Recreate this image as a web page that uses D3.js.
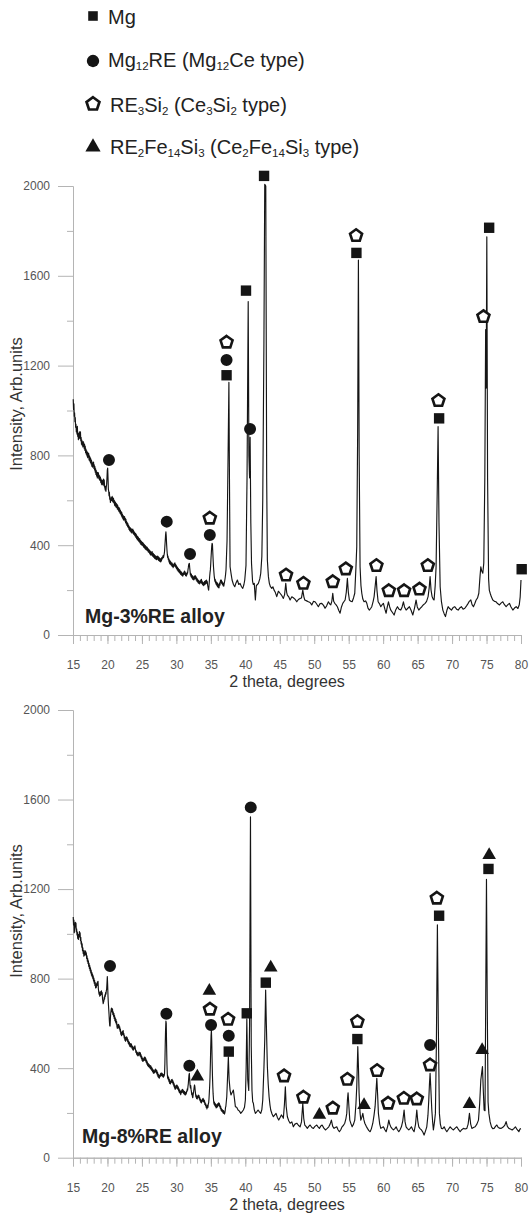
<!DOCTYPE html>
<html><head><meta charset="utf-8">
<script src="https://cdn.jsdelivr.net/npm/d3@7"></script>
<style>body{margin:0;background:#fff}svg{display:block}</style>
</head><body>
<svg id="c" width="531" height="1213"></svg>
<script>
// ---------- data ----------
const xTicks = [15,20,25,30,35,40,45,50,55,60,65,70,75,80];
const xMinorTicks = d3.range(15, 81, 1);
const yTicks = [0,400,800,1200,1600,2000];
const yMinorTicks = [200,600,1000,1400,1800];
const alloyLabels = ["Mg-3%RE alloy", "Mg-8%RE alloy"];
const xTitle = "2 theta, degrees";
const yTitle = "Intensity, Arb.units";

// legend labels: [text, isSubscript]
const legendLabels = [
  [["Mg",0]],
  [["Mg",0],["12",1],["RE (Mg",0],["12",1],["Ce type)",0]],
  [["RE",0],["3",1],["Si",0],["2",1],[" (Ce",0],["3",1],["Si",0],["2",1],[" type)",0]],
  [["RE",0],["2",1],["Fe",0],["14",1],["Si",0],["3",1],[" (Ce",0],["2",1],["Fe",0],["14",1],["Si",0],["3",1],[" type)",0]]
];

// XRD pattern, Mg-3%RE alloy: [2theta, intensity]
const pattern3 = [
[15.03,1050],[15.08,1005],[15.13,1030],[15.18,975],[15.23,990],[15.28,950],[15.33,968],[15.38,925],[15.43,940],[15.48,905],
[15.53,922],[15.58,895],[15.63,930],[15.68,885],[15.73,900],[15.78,870],[15.83,895],[15.88,880],[15.93,905],[15.98,875],
[16.03,890],[16.08,905],[16.13,865],[16.18,880],[16.23,850],[16.28,868],[16.33,845],[16.38,860],[16.43,838],[16.48,862],
[16.53,840],[16.58,855],[16.63,830],[16.68,848],[16.73,822],[16.78,840],[16.83,812],[16.88,828],[16.93,805],[16.98,820],
[17.03,798],[17.08,815],[17.13,790],[17.18,812],[17.23,795],[17.28,808],[17.33,780],[17.38,798],[17.43,775],[17.48,792],
[17.53,768],[17.58,785],[17.63,762],[17.68,778],[17.73,752],[17.78,770],[17.83,748],[17.88,762],[17.93,755],[17.98,770],
[18.03,742],[18.08,758],[18.13,735],[18.18,750],[18.23,725],[18.28,740],[18.33,715],[18.38,732],[18.43,708],[18.48,722],
[18.53,700],[18.58,725],[18.63,708],[18.68,722],[18.73,698],[18.78,712],[18.83,692],[18.88,708],[18.93,688],[18.98,702],
[19.03,680],[19.08,695],[19.13,672],[19.18,688],[19.23,668],[19.28,685],[19.33,690],[19.38,672],[19.43,695],[19.48,665],
[19.53,690],[19.58,660],[19.63,655],[19.68,645],[19.73,662],[19.78,640],[19.83,660],[19.88,672],[19.93,700],[19.98,735],
[20.03,744],[20.08,700],[20.13,650],[20.18,640],[20.23,620],[20.28,635],[20.33,605],[20.38,615],[20.43,590],[20.48,605],
[20.53,598],[20.58,612],[20.63,600],[20.68,618],[20.73,596],[20.78,612],[20.83,592],[20.88,608],[20.93,588],[20.98,600],
[21.03,578],[21.08,595],[21.13,575],[21.18,590],[21.23,570],[21.28,585],[21.33,568],[21.38,582],[21.43,562],[21.48,578],
[21.53,558],[21.58,570],[21.63,552],[21.68,568],[21.73,548],[21.78,562],[21.83,542],[21.88,555],[21.93,538],[21.98,550],
[22.03,530],[22.08,545],[22.13,525],[22.18,538],[22.23,518],[22.28,532],[22.33,512],[22.38,528],[22.43,515],[22.48,528],
[22.53,508],[22.58,520],[22.63,500],[22.68,515],[22.73,495],[22.78,505],[22.83,488],[22.88,500],[22.93,482],[22.98,495],
[23.03,478],[23.08,488],[23.13,470],[23.18,482],[23.23,465],[23.28,478],[23.33,462],[23.38,475],[23.43,458],[23.48,472],
[23.53,455],[23.58,470],[23.63,460],[23.68,472],[23.73,452],[23.78,465],[23.83,448],[23.88,460],[23.93,445],[23.98,455],
[24.03,440],[24.08,452],[24.13,435],[24.18,448],[24.23,430],[24.28,442],[24.33,425],[24.38,438],[24.43,422],[24.48,435],
[24.53,418],[24.58,430],[24.63,415],[24.68,428],[24.73,410],[24.78,422],[24.83,405],[24.88,418],[24.93,402],[24.98,415],
[25.03,400],[25.08,412],[25.13,398],[25.18,410],[25.23,392],[25.28,405],[25.33,390],[25.38,402],[25.43,385],[25.48,398],
[25.53,382],[25.58,395],[25.63,380],[25.68,392],[25.73,378],[25.78,390],[25.83,375],[25.88,385],[25.93,370],[25.98,382],
[26.03,368],[26.08,378],[26.13,362],[26.18,375],[26.23,358],[26.28,370],[26.33,355],[26.38,368],[26.43,360],[26.48,372],
[26.53,352],[26.58,365],[26.63,350],[26.68,362],[26.73,345],[26.78,358],[26.83,342],[26.88,355],[26.93,340],[26.98,352],
[27.03,338],[27.08,350],[27.13,335],[27.18,348],[27.23,340],[27.28,352],[27.33,336],[27.38,348],[27.43,332],[27.48,345],
[27.53,330],[27.58,342],[27.63,328],[27.68,338],[27.73,325],[27.78,340],[27.83,330],[27.88,345],[27.93,338],[27.98,348],
[28.03,342],[28.08,355],[28.13,345],[28.18,352],[28.23,360],[28.28,372],[28.33,395],[28.38,420],[28.43,445],[28.48,460],
[28.53,440],[28.58,405],[28.63,380],[28.68,360],[28.73,345],[28.78,352],[28.83,335],[28.88,342],[28.93,325],[28.98,335],
[29.03,318],[29.08,330],[29.13,315],[29.18,326],[29.23,312],[29.28,322],[29.33,308],[29.38,320],[29.43,305],[29.48,315],
[29.53,300],[29.58,312],[29.63,305],[29.68,318],[29.73,310],[29.78,322],[29.83,305],[29.88,315],[29.93,300],[29.98,310],
[30.03,295],[30.08,305],[30.13,290],[30.18,300],[30.23,285],[30.28,296],[30.33,282],[30.38,292],[30.43,278],[30.48,290],
[30.53,275],[30.58,285],[30.63,270],[30.68,282],[30.73,268],[30.78,278],[30.83,265],[30.88,275],[30.93,262],[30.98,272],
[31.03,268],[31.08,280],[31.13,272],[31.18,285],[31.23,270],[31.28,280],[31.33,265],[31.38,275],[31.43,262],[31.48,272],
[31.53,268],[31.58,280],[31.63,275],[31.68,290],[31.73,300],[31.78,312],[31.83,318],[31.88,319],[31.93,300],[31.98,285],
[32.03,268],[32.08,275],[32.13,260],[32.18,270],[32.23,255],[32.28,265],[32.33,250],[32.38,262],[32.43,248],[32.48,258],
[32.53,245],[32.58,255],[32.63,262],[32.68,250],[32.73,265],[32.78,252],[32.83,260],[32.88,245],[32.93,255],[32.98,240],
[33.03,250],[33.08,236],[33.13,246],[33.18,232],[33.23,242],[33.28,230],[33.33,240],[33.38,228],[33.43,238],[33.48,232],
[33.53,245],[33.58,235],[33.63,248],[33.68,230],[33.73,240],[33.78,225],[33.83,235],[33.88,222],[33.93,232],[33.98,220],
[34.03,230],[34.08,238],[34.13,225],[34.18,240],[34.23,228],[34.28,242],[34.33,230],[34.38,245],[34.43,232],[34.48,238],
[34.53,222],[34.58,215],[34.63,205],[34.68,200],[34.73,218],[34.78,240],[34.83,262],[34.88,278],[34.93,290],[34.98,315],
[35.03,345],[35.08,372],[35.13,395],[35.18,408],[35.23,405],[35.28,370],[35.33,335],[35.38,305],[35.43,285],[35.48,265],
[35.53,252],[35.58,240],[35.63,248],[35.68,232],[35.73,240],[35.78,225],[35.83,235],[35.88,220],[35.93,232],[35.98,215],
[36.03,228],[36.08,212],[36.13,222],[36.18,210],[36.23,225],[36.28,232],[36.33,222],[36.38,240],[36.43,245],[36.48,235],
[36.53,245],[36.58,230],[36.63,238],[36.68,225],[36.73,232],[36.78,220],[36.83,230],[36.88,218],[36.93,228],[36.98,235],
[37.03,245],[37.08,255],[37.13,268],[37.2,290],
[37.35,420],[37.5,800],[37.62,1125],[37.7,700],[37.79,304],[37.95,270],[38.08,245],[38.28,225],
[38.47,215],[38.65,232],[38.85,245],[39.05,225],[39.24,230],[39.45,215],[39.63,208],[39.8,225],[39.92,245],[40.1,310],
[40.25,700],[40.42,1485],[40.52,800],[40.62,700],[40.7,880],[40.8,500],[40.9,320],[41.05,240],[41.15,225],[41.3,230],
[41.46,156],[41.6,220],[41.75,225],[41.9,230],[42.1,250],[42.24,275],[42.4,350],[42.53,600],[42.7,1300],[42.82,2008],
[42.97,2000],[43.1,700],[43.2,334],[43.35,260],[43.49,230],[43.65,215],[43.84,208],[44.0,215],[44.17,200],[44.35,190],
[44.56,171],[44.8,195],[45.04,186],[45.25,178],[45.52,163],[45.7,180],[45.87,230],[46.0,190],[46.1,178],[46.3,170],
[46.5,156],[46.75,170],[46.97,166],[47.2,160],[47.47,148],[47.7,158],[47.95,163],[48.15,165],[48.34,200],[48.5,170],
[48.63,156],[48.9,152],[49.15,148],[49.4,145],[49.64,134],[49.9,150],[50.12,148],[50.35,138],[50.6,126],[50.85,140],
[51.1,141],[51.35,132],[51.57,119],[51.8,130],[52.06,148],[52.25,138],[52.4,134],[52.55,150],[52.69,186],[52.82,150],
[52.98,141],[53.15,135],[53.36,126],[53.55,110],[53.75,97],[53.95,125],[54.14,141],[54.3,148],[54.48,156],[54.65,190],
[54.81,252],[54.95,190],[55.1,156],[55.3,150],[55.5,148],[55.7,165],[55.88,186],[56.05,300],[56.17,393],[56.3,900],
[56.41,1670],[56.52,800],[56.65,304],[56.78,220],[56.9,186],[57.05,160],[57.23,148],[57.45,152],[57.63,141],[57.8,120],
[58.0,111],[58.18,118],[58.35,126],[58.55,150],[58.69,171],[58.85,220],[58.98,260],[59.1,200],[59.27,148],[59.45,140],
[59.66,126],[59.85,135],[60.04,141],[60.25,115],[60.43,97],[60.6,125],[60.77,148],[60.95,125],[61.11,111],[61.35,100],
[61.59,89],[61.8,110],[62.07,126],[62.3,115],[62.56,111],[62.75,125],[62.94,148],[63.1,125],[63.33,111],[63.55,118],
[63.81,126],[64.05,110],[64.3,89],[64.55,120],[64.78,156],[64.95,125],[65.17,111],[65.4,120],[65.61,126],[65.85,135],
[66.09,141],[66.3,150],[66.52,171],[66.68,210],[66.81,260],[66.95,200],[67.1,171],[67.25,160],[67.39,156],[67.55,220],
[67.68,304],[67.85,650],[67.97,928],[68.1,500],[68.27,215],[68.45,150],[68.66,111],[68.85,95],[69.04,82],[69.25,110],
[69.43,126],[69.65,118],[69.91,111],[70.15,122],[70.4,126],[70.65,115],[70.88,111],[71.1,120],[71.36,126],[71.6,115],
[71.85,119],[72.1,130],[72.33,141],[72.5,150],[72.72,156],[72.9,135],[73.1,126],[73.3,140],[73.49,156],[73.7,165],
[73.88,186],[74.05,260],[74.17,304],[74.3,285],[74.46,275],[74.6,320],[74.75,700],[74.87,1360],[74.95,1100],[75.04,1774],
[75.15,700],[75.3,250],[75.4,200],[75.53,186],[75.7,170],[75.91,156],[76.15,150],[76.39,148],[76.6,140],[76.88,134],
[77.1,142],[77.36,148],[77.6,135],[77.84,126],[78.1,135],[78.32,141],[78.55,125],[78.82,111],[79.05,120],[79.3,126],
[79.55,118],[79.75,135],[79.88,170],[80.0,245]
];

// XRD pattern, Mg-8%RE alloy
const pattern8 = [
[15.03,1075],[15.08,1040],[15.13,1062],[15.18,1005],[15.23,1020],[15.28,1030],[15.33,1052],[15.38,1035],[15.43,1048],[15.48,1010],
[15.53,1022],[15.58,995],[15.63,1008],[15.68,980],[15.73,995],[15.78,975],[15.83,998],[15.88,985],[15.93,1010],[15.98,990],
[16.03,1005],[16.08,970],[16.13,985],[16.18,955],[16.23,965],[16.28,940],[16.33,955],[16.38,925],[16.43,938],[16.48,912],
[16.53,925],[16.58,900],[16.63,915],[16.68,905],[16.73,925],[16.78,908],[16.83,922],[16.88,905],[16.93,915],[16.98,890],
[17.03,902],[17.08,878],[17.13,890],[17.18,868],[17.23,880],[17.28,855],[17.33,868],[17.38,845],[17.43,858],[17.48,835],
[17.53,848],[17.58,825],[17.63,838],[17.68,815],[17.73,828],[17.78,808],[17.83,820],[17.88,800],[17.93,812],[17.98,790],
[18.03,802],[18.08,780],[18.13,792],[18.18,770],[18.23,782],[18.28,758],[18.33,770],[18.38,760],[18.43,778],[18.48,768],
[18.53,785],[18.58,772],[18.63,788],[18.68,755],[18.73,742],[18.78,730],[18.83,740],[18.88,722],[18.93,735],[18.98,725],
[19.03,742],[19.08,730],[19.13,745],[19.18,728],[19.23,738],[19.28,712],[19.33,700],[19.38,688],[19.43,695],[19.48,700],
[19.53,718],[19.58,708],[19.63,728],[19.68,720],[19.73,738],[19.78,730],[19.83,745],[19.88,752],[19.93,780],[19.98,809],
[20.03,770],[20.08,720],[20.13,690],[20.18,665],[20.23,640],[20.28,610],[20.33,590],[20.38,588],[20.43,625],[20.48,648],
[20.53,660],[20.58,668],[20.63,660],[20.68,650],[20.73,665],[20.78,640],[20.83,652],[20.88,632],[20.93,645],[20.98,622],
[21.03,635],[21.08,612],[21.13,625],[21.18,605],[21.23,618],[21.28,598],[21.33,608],[21.38,585],[21.43,578],[21.48,592],
[21.53,582],[21.58,596],[21.63,580],[21.68,592],[21.73,575],[21.78,585],[21.83,565],[21.88,575],[21.93,552],[21.98,562],
[22.03,545],[22.08,558],[22.13,548],[22.18,565],[22.23,552],[22.28,568],[22.33,548],[22.38,555],[22.43,535],[22.48,545],
[22.53,525],[22.58,535],[22.63,520],[22.68,538],[22.73,528],[22.78,540],[22.83,525],[22.88,535],[22.93,518],[22.98,528],
[23.03,510],[23.08,520],[23.13,505],[23.18,515],[23.23,498],[23.28,508],[23.33,495],[23.38,510],[23.43,498],[23.48,508],
[23.53,490],[23.58,500],[23.63,485],[23.68,495],[23.73,480],[23.78,490],[23.83,482],[23.88,495],[23.93,488],[23.98,500],
[24.03,490],[24.08,482],[24.13,470],[24.18,478],[24.23,462],[24.28,472],[24.33,458],[24.38,468],[24.43,455],[24.48,465],
[24.53,458],[24.58,472],[24.63,460],[24.68,470],[24.73,455],[24.78,468],[24.83,450],[24.88,460],[24.93,442],[24.98,452],
[25.03,435],[25.08,445],[25.13,430],[25.18,440],[25.23,432],[25.28,445],[25.33,438],[25.38,450],[25.43,435],[25.48,448],
[25.53,432],[25.58,442],[25.63,425],[25.68,435],[25.73,418],[25.78,428],[25.83,412],[25.88,422],[25.93,408],[25.98,418],
[26.03,405],[26.08,415],[26.13,402],[26.18,412],[26.23,398],[26.28,410],[26.33,395],[26.38,405],[26.43,390],[26.48,400],
[26.53,385],[26.58,395],[26.63,380],[26.68,390],[26.73,376],[26.78,386],[26.83,380],[26.88,392],[26.93,385],[26.98,396],
[27.03,382],[27.08,392],[27.13,378],[27.18,388],[27.23,370],[27.28,380],[27.33,362],[27.38,372],[27.43,358],[27.48,368],
[27.53,355],[27.58,368],[27.63,362],[27.68,375],[27.73,365],[27.78,378],[27.83,368],[27.88,378],[27.93,365],[27.98,375],
[28.03,362],[28.08,372],[28.13,360],[28.18,370],[28.23,365],[28.28,375],[28.33,420],[28.38,500],[28.43,570],[28.48,610],
[28.53,600],[28.58,500],[28.63,420],[28.68,375],[28.73,355],[28.78,365],[28.83,348],[28.88,358],[28.93,340],[28.98,350],
[29.03,332],[29.08,342],[29.13,330],[29.18,342],[29.23,335],[29.28,348],[29.33,338],[29.38,350],[29.43,335],[29.48,345],
[29.53,328],[29.58,338],[29.63,320],[29.68,330],[29.73,312],[29.78,322],[29.83,305],[29.88,315],[29.93,310],[29.98,322],
[30.03,312],[30.08,325],[30.13,310],[30.18,320],[30.23,305],[30.28,315],[30.33,298],[30.38,308],[30.43,292],[30.48,302],
[30.53,288],[30.58,298],[30.63,282],[30.68,292],[30.73,290],[30.78,302],[30.83,295],[30.88,305],[30.93,292],[30.98,302],
[31.03,288],[31.08,298],[31.13,285],[31.18,295],[31.23,282],[31.28,292],[31.33,280],[31.38,290],[31.43,285],[31.48,298],
[31.53,295],[31.58,308],[31.63,302],[31.68,318],[31.73,330],[31.78,352],[31.83,370],[31.88,377],[31.93,350],[31.98,325],
[32.03,312],[32.08,322],[32.13,305],[32.18,295],[32.23,282],[32.28,290],[32.33,272],[32.38,268],[32.43,280],[32.48,290],
[32.53,302],[32.58,315],[32.63,325],[32.68,318],[32.73,300],[32.78,285],[32.83,272],[32.88,280],[32.93,265],[32.98,272],
[33.03,262],[33.08,275],[33.13,268],[33.18,280],[33.23,270],[33.28,278],[33.33,262],[33.38,270],[33.43,255],[33.48,262],
[33.53,248],[33.58,258],[33.63,245],[33.68,255],[33.73,250],[33.78,262],[33.83,255],[33.88,265],[33.93,250],[33.98,260],
[34.03,248],[34.08,255],[34.13,238],[34.18,245],[34.23,232],[34.28,240],[34.33,225],[34.38,232],[34.43,218],[34.48,228],
[34.53,235],[34.58,225],[34.63,240],[34.68,245],[34.73,262],[34.78,290],[34.83,320],[34.88,360],[34.93,420],[34.98,490],
[35.03,545],[35.08,570],[35.13,520],[35.18,440],[35.23,370],[35.28,320],[35.33,285],[35.38,262],[35.43,245],[35.48,238],
[35.53,248],[35.58,232],[35.63,242],[35.68,228],[35.73,238],[35.78,222],[35.83,232],[35.88,225],[35.93,238],[35.98,228],
[36.03,242],[36.08,232],[36.13,245],[36.18,235],[36.23,243],[36.28,228],[36.33,235],[36.38,220],[36.43,228],[36.48,212],
[36.53,220],[36.58,208],[36.63,215],[36.68,205],[36.73,212],[36.78,200],[36.83,210],[36.88,198],[36.93,205],[36.98,195],
[37.03,200],[37.08,210],[37.13,225],[37.18,230],
[37.31,272],[37.45,380],[37.54,451],[37.65,350],[37.79,302],[37.92,280],[38.03,288],[38.15,295],[38.27,302],[38.42,265],
[38.56,228],[38.75,225],[38.95,213],[39.15,208],[39.34,198],[39.52,205],[39.72,213],[39.88,225],[40.01,258],[40.12,400],
[40.22,620],[40.35,350],[40.5,300],[40.62,600],[40.75,1523],[40.86,500],[40.97,300],[41.07,250],[41.17,243],[41.3,215],
[41.46,198],[41.65,205],[41.85,213],[42.05,205],[42.24,198],[42.4,215],[42.53,258],[42.7,400],[42.82,526],[42.95,749],
[43.05,600],[43.2,407],[43.32,330],[43.45,272],[43.58,235],[43.69,213],[43.88,195],[44.07,183],[44.25,190],[44.46,198],
[44.65,180],[44.85,168],[45.05,180],[45.23,191],[45.38,185],[45.52,176],[45.68,240],[45.81,317],[45.93,230],[46.1,183],
[46.3,165],[46.5,154],[46.75,160],[46.97,138],[47.2,150],[47.47,154],[47.7,145],[47.95,138],[48.15,160],[48.34,243],
[48.48,175],[48.63,146],[48.8,140],[49.0,131],[49.2,140],[49.4,146],[49.65,135],[49.88,131],[50.1,140],[50.37,146],
[50.55,138],[50.75,131],[50.95,142],[51.14,146],[51.4,132],[51.62,124],[51.85,130],[52.11,138],[52.3,150],[52.49,168],
[52.68,140],[52.88,131],[53.05,135],[53.27,138],[53.45,125],[53.65,116],[53.85,125],[54.04,138],[54.25,145],[54.43,154],
[54.6,175],[54.72,198],[54.82,260],[54.91,290],[55.03,230],[55.16,168],[55.35,150],[55.5,138],[55.7,150],[55.88,168],
[56.05,240],[56.17,317],[56.32,496],[56.42,400],[56.51,288],[56.65,200],[56.76,168],[56.9,180],[57.05,198],[57.2,170],
[57.34,154],[57.55,140],[57.72,131],[57.9,122],[58.11,116],[58.3,130],[58.5,154],[58.68,190],[58.83,228],[58.97,300],
[59.08,355],[59.2,280],[59.31,198],[59.5,150],[59.66,131],[59.85,135],[60.04,138],[60.25,125],[60.43,116],[60.65,140],
[60.82,168],[60.95,150],[61.11,138],[61.3,130],[61.49,124],[61.7,130],[61.88,138],[62.07,125],[62.27,116],[62.45,125],
[62.65,138],[62.85,165],[63.04,213],[63.18,160],[63.33,138],[63.52,130],[63.72,124],[63.9,130],[64.1,138],[64.3,125],
[64.49,116],[64.7,150],[64.88,213],[65.02,165],[65.17,138],[65.35,130],[65.55,124],[65.75,115],[65.94,101],[66.15,120],
[66.33,138],[66.5,190],[66.62,258],[66.72,330],[66.81,377],[66.93,300],[67.06,213],[67.18,160],[67.29,124],[67.45,160],
[67.58,198],[67.72,500],[67.87,1040],[68.0,600],[68.16,198],[68.3,150],[68.45,131],[68.65,130],[68.85,138],[69.05,125],
[69.24,116],[69.5,128],[69.72,138],[69.95,130],[70.2,124],[70.45,132],[70.69,138],[70.95,125],[71.17,116],[71.4,125],
[71.65,131],[71.9,128],[72.14,131],[72.33,150],[72.52,198],[72.7,150],[72.87,131],[73.1,135],[73.35,138],[73.6,150],
[73.83,168],[74.0,240],[74.17,347],[74.3,380],[74.41,407],[74.53,300],[74.65,213],[74.78,210],[74.88,700],[74.99,1244],
[75.1,700],[75.22,250],[75.34,198],[75.52,160],[75.72,138],[75.9,130],[76.1,131],[76.3,140],[76.49,146],[76.7,135],
[76.97,131],[77.2,132],[77.45,138],[77.65,145],[77.84,161],[78.02,140],[78.24,131],[78.45,128],[78.72,124],[78.95,130],
[79.19,138],[79.45,125],[79.69,116],[79.85,128],[80.0,130]
];

// phase markers [2theta, intensity]
const mg3      = [[37.28,1157],[40.1,1534],[42.72,2045],[56.12,1702],[68.12,965],[75.38,1814],[80.1,293]];
const mg12re3  = [[20.22,780],[28.6,505],[31.98,361],[34.85,445],[37.28,1225],[40.69,918]];
const re3si2_3 = [[34.85,520],[37.28,1304],[45.91,267],[48.43,230],[52.69,237],[54.58,294],[56.07,1779],[59.02,309],
                  [60.82,197],[63.04,197],[65.27,204],[66.48,309],[68.02,1044],[74.55,1418]];
const fe3      = [];

const mg8      = [[37.6,474],[40.21,645],[42.97,782],[56.26,530],[68.12,1081],[75.28,1290]];
const mg12re8  = [[20.37,856],[28.55,643],[31.88,411],[35.03,593],[37.6,545],[40.79,1565],[66.81,503]];
const re3si2_8 = [[34.88,663],[37.5,618],[45.62,365],[48.43,270],[52.69,221],[54.81,350],[56.26,608],[59.12,389],
                  [60.72,243],[63.0,265],[64.88,262],[66.81,414],[67.79,1159]];
const fe8      = [[33.04,362],[34.78,745],[43.69,849],[50.75,191],[57.23,235],[72.52,240],[74.36,481],[75.38,1352]];

// ---------- drawing ----------
const FONT = "'Liberation Sans', Arial, Helvetica, sans-serif";
const INK = "#151515";
const AXIS = "#b4b4b4";
const svg = d3.select("#c");

const symbolPentagon = {
  draw(ctx, size) {
    const r = Math.sqrt(size);
    for (let i = 0; i < 5; i++) {
      const a = -Math.PI / 2 + i * 2 * Math.PI / 5;
      const px = r * Math.cos(a), py = r * Math.sin(a);
      if (i) ctx.lineTo(px, py); else ctx.moveTo(px, py);
    }
    ctx.closePath();
  }
};
const phaseStyles = [
  {type: d3.symbolSquare,   size: 108, fill: INK,  stroke: "none", sw: 0},
  {type: d3.symbolCircle,   size: 113, fill: INK,  stroke: "none", sw: 0},
  {type: symbolPentagon,    size: 40,  fill: "#fff", stroke: INK,  sw: 2.6},
  {type: d3.symbolTriangle, size: 80,  fill: INK,  stroke: "none", sw: 0}
];

// legend
const legendY = [16, 61, 104, 147];
const legendBase = [24, 67, 112, 154];
const legendTX = [108, 108, 110, 110];
const legendSizes = [92, 120, 46, 100];
legendLabels.forEach((segs, i) => {
  const st = phaseStyles[i];
  svg.append("path")
    .attr("d", d3.symbol().type(st.type).size(legendSizes[i])())
    .attr("transform", `translate(93,${legendY[i]})`)
    .attr("fill", st.fill).attr("stroke", st.stroke).attr("stroke-width", i === 2 ? 2.7 : 0);
  const t = svg.append("text").attr("x", legendTX[i]).attr("y", legendBase[i])
    .attr("font-family", FONT).attr("font-size", 20).attr("fill", "#222");
  let prevSub = false;
  segs.forEach(([s, sub]) => {
    const ts = t.append("tspan").text(s);
    if (sub) ts.attr("font-size", 11.5).attr("dy", prevSub ? 0 : 3);
    else if (prevSub) ts.attr("dy", -3);
    prevSub = !!sub;
  });
});

const x = d3.scaleLinear().domain([15, 80]).range([73, 521]);

const panels = [
  {data: pattern3, yr: [635, 186], phases: [mg3, mg12re3, re3si2_3, fe3], label: alloyLabels[0], lx: 85, ly: 623, ytY: 404},
  {data: pattern8, yr: [1157.7, 710], phases: [mg8, mg12re8, re3si2_8, fe8], label: alloyLabels[1], lx: 82, ly: 1143, ytY: 911}
];

function styleAxis(g) {
  g.attr("font-family", FONT).attr("font-size", 12);
  g.select(".domain").attr("stroke", AXIS).attr("stroke-width", 1);
  g.selectAll(".tick line").attr("stroke", AXIS).attr("stroke-width", 1);
  g.selectAll(".tick text").attr("fill", "#555");
}

panels.forEach(p => {
  const y = d3.scaleLinear().domain([0, 2000]).range(p.yr);
  const g = svg.append("g");
  const y0 = y(0);

  // axes
  g.append("g").attr("transform", `translate(0,${y0})`)
    .call(d3.axisBottom(x).tickValues(xMinorTicks).tickSize(6).tickSizeOuter(0).tickFormat(""))
    .call(styleAxis);
  g.append("g").attr("transform", `translate(0,${y0})`)
    .call(d3.axisBottom(x).tickValues(xTicks).tickSize(9).tickSizeOuter(0).tickPadding(16.7).tickFormat(d3.format("d")))
    .call(styleAxis);
  g.append("g").attr("transform", `translate(${x(15)},0)`)
    .call(d3.axisLeft(y).tickValues(yMinorTicks).tickSize(6).tickSizeOuter(0).tickFormat(""))
    .call(styleAxis);
  g.append("g").attr("transform", `translate(${x(15)},0)`)
    .call(d3.axisLeft(y).tickValues(yTicks).tickSize(15).tickSizeOuter(0).tickPadding(8).tickFormat(d3.format("d")))
    .call(styleAxis);

  // titles
  g.append("text").attr("x", 287).attr("y", y0 + 52).attr("text-anchor", "middle")
    .attr("font-family", FONT).attr("font-size", 16).attr("fill", "#333").text(xTitle);
  g.append("text").attr("transform", `translate(22,${p.ytY}) rotate(-90)`).attr("text-anchor", "middle")
    .attr("font-family", FONT).attr("font-size", 16.5).attr("fill", "#333").text(yTitle);

  // pattern
  g.append("path").datum(p.data)
    .attr("d", d3.line().x(d => x(d[0])).y(d => y(d[1])))
    .attr("fill", "none").attr("stroke", INK).attr("stroke-width", 1.15).attr("stroke-linejoin", "round");

  // alloy label
  g.append("text").attr("x", p.lx).attr("y", p.ly)
    .attr("font-family", FONT).attr("font-size", 19.5).attr("font-weight", "bold").attr("fill", "#222")
    .text(p.label);

  // markers
  p.phases.forEach((arr, i) => {
    const st = phaseStyles[i];
    g.append("g").selectAll("path").data(arr).join("path")
      .attr("d", d3.symbol().type(st.type).size(st.size)())
      .attr("transform", d => `translate(${x(d[0])},${y(d[1])})`)
      .attr("fill", st.fill).attr("stroke", st.stroke).attr("stroke-width", st.sw);
  });
});
</script>
</body></html>
